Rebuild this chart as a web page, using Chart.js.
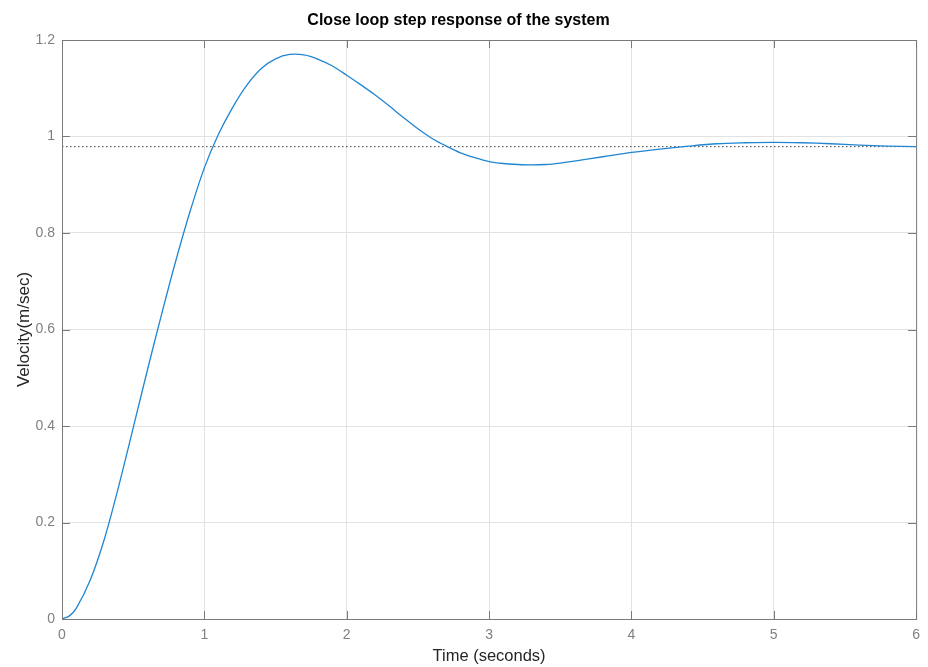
<!DOCTYPE html>
<html>
<head>
<meta charset="utf-8">
<script src="https://cdn.jsdelivr.net/npm/chart.js@4.4.1/dist/chart.umd.min.js"></script>
<style>
  html, body { margin: 0; padding: 0; background: #fff; }
  #wrap { width: 928px; height: 667px; }
</style>
</head>
<body>
<div id="wrap"><canvas id="myChart" width="928" height="667"></canvas></div>
<script>
const ctx = document.getElementById('myChart');

// values
const times = [0, 0.05, 0.1, 0.2, 0.3, 0.4, 0.5, 0.6, 0.7, 0.8, 0.9, 1.0, 1.1, 1.2, 1.3, 1.4, 1.5, 1.6, 1.7, 1.8, 1.9, 2.0,
  2.1, 2.2, 2.3, 2.4, 2.5, 2.6, 2.7, 2.8, 2.9, 3.0, 3.1, 3.2, 3.3, 3.4, 3.5,
  3.6, 3.8, 4.0, 4.2, 4.4, 4.6, 4.8, 5.0, 5.2, 5.4, 5.6, 5.8, 6.0];
const velocity = [0, 0.006, 0.022, 0.082, 0.168, 0.277, 0.396, 0.516, 0.632, 0.743, 0.845, 0.935, 1.005, 1.061, 1.107, 1.141, 1.161, 1.170, 1.169, 1.160, 1.146, 1.127,
  1.107, 1.086, 1.063, 1.039, 1.016, 0.996, 0.980, 0.966, 0.956, 0.948, 0.944, 0.942, 0.941, 0.942, 0.945,
  0.949, 0.958, 0.967, 0.974, 0.980, 0.985, 0.987, 0.988, 0.987, 0.985, 0.982, 0.980, 0.979];
const steadyState = 0.979;
const xTicks = [0, 1, 2, 3, 4, 5, 6];
const yTicks = [0, 0.2, 0.4, 0.6, 0.8, 1, 1.2];

const FONT = "'Liberation Sans', Arial, Helvetica, sans-serif";
const AXIS_COLOR = '#7a7a7a';

// MATLAB style box with inward ticks on all four sides
const boxPlugin = {
  id: 'box',
  afterDraw(chart) {
    const {ctx, chartArea: a, scales} = chart;
    ctx.save();
    ctx.strokeStyle = AXIS_COLOR;
    ctx.lineWidth = 1;
    ctx.strokeRect(a.left + 0.5, a.top + 0.5, a.right - a.left, a.bottom - a.top);
    ctx.beginPath();
    xTicks.forEach(v => {
      const px = Math.round(scales.x.getPixelForValue(v)) + 0.5;
      ctx.moveTo(px, a.bottom); ctx.lineTo(px, a.bottom - 8);
      ctx.moveTo(px, a.top); ctx.lineTo(px, a.top + 8);
    });
    yTicks.forEach(v => {
      const py = Math.round(scales.y.getPixelForValue(v)) + 0.5;
      ctx.moveTo(a.left, py); ctx.lineTo(a.left + 8, py);
      ctx.moveTo(a.right, py); ctx.lineTo(a.right - 8, py);
    });
    ctx.stroke();
    ctx.restore();
  }
};

const data = {
  datasets: [
    {
      label: 'Step response',
      data: times.map((t, i) => ({x: t, y: velocity[i]})),
      borderColor: '#1f86d2',
      borderWidth: 1.3,
      pointRadius: 0,
      tension: 0.3,
      fill: false
    },
    {
      label: 'Steady state',
      data: [{x: 0, y: steadyState}, {x: 6, y: steadyState}],
      borderColor: '#444',
      borderWidth: 1,
      borderDash: [1.5, 2.5],
      pointRadius: 0,
      fill: false
    }
  ]
};

const config = {
  type: 'line',
  data: data,
  options: {
    responsive: false,
    animation: false,
    layout: { padding: { left: 0, right: 11, top: 0, bottom: 0 } },
    scales: {
      x: {
        type: 'linear',
        min: 0, max: 6,
        afterFit: s => { s.height = 48; },
        afterBuildTicks: s => { s.ticks = xTicks.map(v => ({value: v})); },
        grid: { color: '#e2e2e2', drawTicks: false },
        border: { display: false },
        ticks: { color: '#808080', font: { family: FONT, size: 14 }, padding: 8, maxRotation: 0 },
        title: { display: true, text: 'Time (seconds)', color: '#262626', font: { family: FONT, size: 16.5 }, padding: { top: 0, bottom: 1 } }
      },
      y: {
        min: 0, max: 1.2,
        afterFit: s => { s.width = 62; },
        afterBuildTicks: s => { s.ticks = yTicks.map(v => ({value: v})); },
        grid: { color: '#e2e2e2', drawTicks: false },
        border: { display: false },
        ticks: { color: '#808080', font: { family: FONT, size: 14 }, padding: 7, callback: v => String(v) },
        title: { display: true, text: 'Velocity(m/sec)', color: '#262626', font: { family: FONT, size: 17 }, padding: { top: 14, bottom: 0 } }
      }
    },
    plugins: {
      legend: { display: false },
      tooltip: { enabled: false },
      title: {
        display: true,
        text: 'Close loop step response of the system',
        color: '#000',
        font: { family: FONT, size: 16, weight: 'bold' },
        padding: { top: 11, bottom: 9.8 }
      }
    }
  },
  plugins: [boxPlugin]
};

const myChart = new Chart(ctx, config);
</script>
</body>
</html>
